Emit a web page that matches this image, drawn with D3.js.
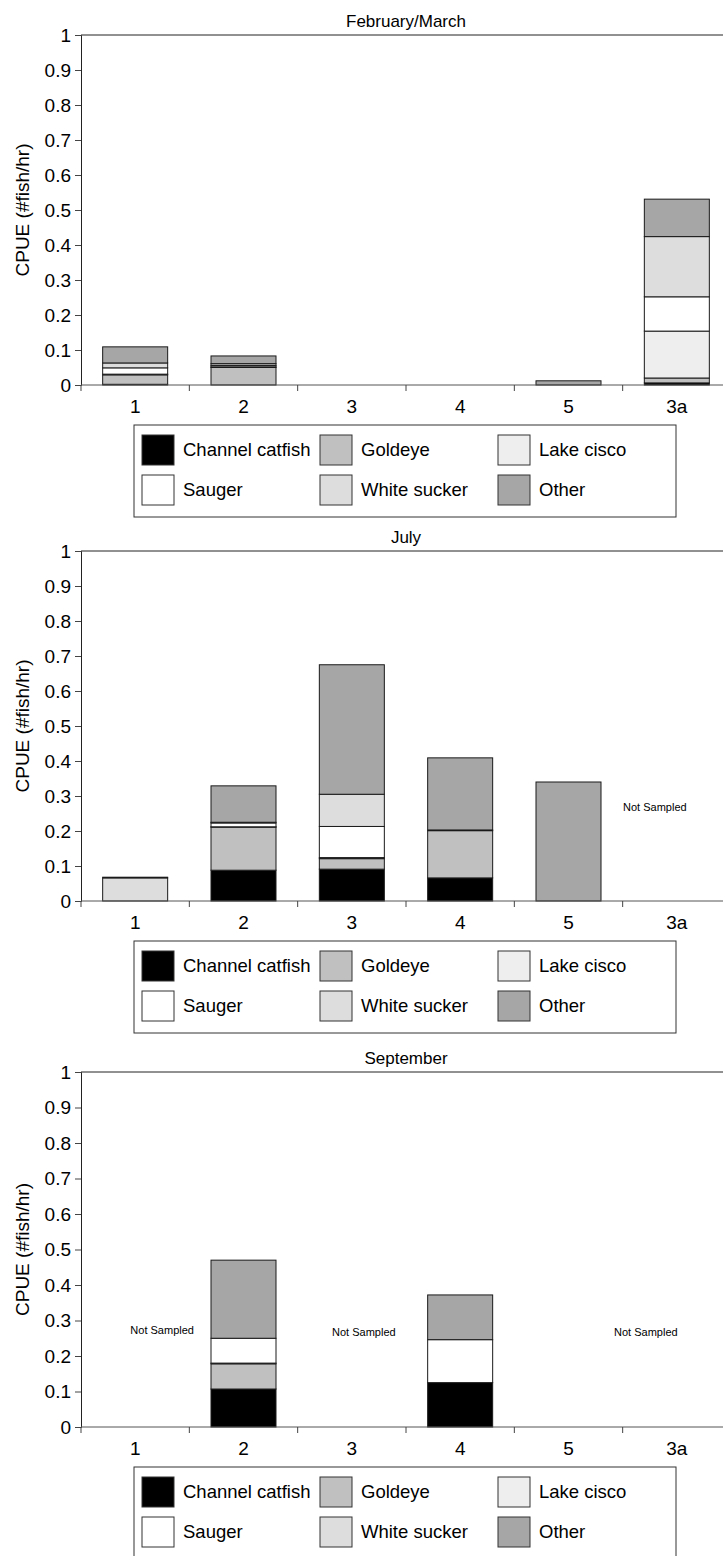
<!DOCTYPE html>
<html>
<head>
<meta charset="utf-8">
<script src="https://cdn.jsdelivr.net/npm/d3@7"></script>
<style>
  body { margin: 0; background: #fff; }
  svg { display: block; font-family: "Liberation Sans", Arial, sans-serif; }
</style>
</head>
<body>
<div id="wrapper"></div>
<script>
// sites along the x axis
const sites = ["1", "2", "3", "4", "5", "3a"]
const species = ["Channel catfish", "Goldeye", "Lake cisco", "Sauger", "White sucker", "Other"]
const speciesColors = ["#000000", "#c0c0c0", "#eeeeee", "#ffffff", "#dddddd", "#a6a6a6"]
const yTicks = [0, 0.1, 0.2, 0.3, 0.4, 0.5, 0.6, 0.7, 0.8, 0.9, 1]

// CPUE per species (rows) and site (columns), null = not sampled
const febMarch = [
  [0.002, 0, 0, 0, 0, 0.006],
  [0.027, 0.050, 0, 0, 0, 0.014],
  [0.002, 0.002, 0, 0, 0, 0.134],
  [0.018, 0.004, 0, 0, 0, 0.098],
  [0.014, 0.005, 0, 0, 0, 0.172],
  [0.046, 0.022, 0, 0, 0.012, 0.107],
]
const july = [
  [0, 0.088, 0.091, 0.066, 0, null],
  [0, 0.123, 0.030, 0.135, 0, null],
  [0, 0.001, 0.003, 0.002, 0, null],
  [0, 0.011, 0.089, 0, 0, null],
  [0.066, 0.002, 0.092, 0, 0, null],
  [0.002, 0.104, 0.370, 0.206, 0.340, null],
]
const september = [
  [null, 0.107, null, 0.125, 0, null],
  [null, 0.071, null, 0, 0, null],
  [null, 0.002, null, 0, 0, null],
  [null, 0.070, null, 0.121, 0, null],
  [null, 0, null, 0, 0, null],
  [null, 0.220, null, 0.126, 0, null],
]

// "Not Sampled" notes: site, value height, sideways nudge in px
const julyNotes = [{ site: "3a", value: 0.269, dx: -22 }]
const septemberNotes = [
  { site: "1", value: 0.272, dx: 27 },
  { site: "3", value: 0.268, dx: 12 },
  { site: "3a", value: 0.268, dx: -31 },
]

const panels = [
  { title: "February/March", data: febMarch, notes: [], top: 35, height: 350 },
  { title: "July", data: july, notes: julyNotes, top: 551, height: 350 },
  { title: "September", data: september, notes: septemberNotes, top: 1072, height: 355 },
]

const width = 723
const height = 1556
const left = 81
const plotWidth = 650

const svg = d3.select("#wrapper")
  .append("svg")
  .attr("width", width)
  .attr("height", height)

const xScale = d3.scaleBand()
  .domain(sites)
  .range([0, plotWidth])
const barWidth = xScale.bandwidth() * 0.6

panels.forEach(panel => {
  const g = svg.append("g")
    .attr("transform", `translate(${left},${panel.top})`)

  const yScale = d3.scaleLinear()
    .domain([0, 1])
    .range([panel.height, 0])

  // stack the species per site
  const stacks = []
  sites.forEach((site, j) => {
    let base = 0
    species.forEach((sp, i) => {
      const v = panel.data[i][j]
      if (v) {
        stacks.push({ site, i, y0: base, y1: base + v })
        base += v
      }
    })
  })

  g.selectAll("rect.seg")
    .data(stacks)
    .join("rect")
    .attr("class", "seg")
    .attr("x", d => xScale(d.site) + (xScale.bandwidth() - barWidth) / 2)
    .attr("width", barWidth)
    .attr("y", d => yScale(d.y1))
    .attr("height", d => yScale(d.y0) - yScale(d.y1))
    .attr("fill", d => speciesColors[d.i])
    .attr("stroke", "#1a1a1a")
    .attr("stroke-width", 1)

  // top frame line
  g.append("line")
    .attr("x1", 0).attr("x2", plotWidth)
    .attr("y1", yScale(1)).attr("y2", yScale(1))
    .attr("stroke", "#222")

  const yAxis = g.append("g")
    .call(d3.axisLeft(yScale).tickValues(yTicks).tickFormat(d3.format("")).tickSize(6).tickPadding(4))
  yAxis.select(".domain").attr("stroke", "#222")
  yAxis.selectAll(".tick line").attr("stroke", "#444")
  yAxis.selectAll("text").style("font-size", "19px").attr("fill", "#000")

  // x axis: ticks between the sites
  const xAxis = g.append("g")
    .attr("transform", `translate(0,${panel.height})`)
  xAxis.append("line")
    .attr("x1", 0).attr("x2", plotWidth)
    .attr("stroke", "#555")
  xAxis.selectAll("line.tick")
    .data(sites)
    .join("line")
    .attr("class", "tick")
    .attr("x1", d => xScale(d)).attr("x2", d => xScale(d))
    .attr("y1", 0).attr("y2", 6)
    .attr("stroke", "#444")
  xAxis.selectAll("text")
    .data(sites)
    .join("text")
    .attr("x", d => xScale(d) + xScale.bandwidth() / 2)
    .attr("y", 28)
    .attr("text-anchor", "middle")
    .style("font-size", "19px")
    .text(d => d)

  g.append("text")
    .attr("x", plotWidth / 2)
    .attr("y", -8)
    .attr("text-anchor", "middle")
    .style("font-size", "17px")
    .text(panel.title)

  g.append("text")
    .attr("transform", `translate(${-left + 29},${panel.height / 2}) rotate(-90)`)
    .attr("text-anchor", "middle")
    .style("font-size", "19px")
    .text("CPUE (#fish/hr)")

  g.selectAll("text.note")
    .data(panel.notes)
    .join("text")
    .attr("class", "note")
    .attr("x", d => xScale(d.site) + xScale.bandwidth() / 2 + d.dx)
    .attr("y", d => yScale(d.value) + 4)
    .attr("text-anchor", "middle")
    .style("font-size", "11px")
    .text("Not Sampled")

  // legend box
  const legend = g.append("g")
    .attr("transform", `translate(${134 - left},${panel.height + 40})`)
  legend.append("rect")
    .attr("width", 542)
    .attr("height", 92)
    .attr("fill", "none")
    .attr("stroke", "#333")
  const item = legend.selectAll("g.item")
    .data(species)
    .join("g")
    .attr("class", "item")
    .attr("transform", (d, i) => `translate(${8 + (i % 3) * 178},${10 + Math.floor(i / 3) * 40})`)
  item.append("rect")
    .attr("width", 32)
    .attr("height", 30)
    .attr("fill", (d, i) => speciesColors[i])
    .attr("stroke", "#333")
  item.append("text")
    .attr("x", 41)
    .attr("y", 15)
    .attr("dy", "0.35em")
    .style("font-size", "18.5px")
    .text(d => d)
})
</script>
</body>
</html>
